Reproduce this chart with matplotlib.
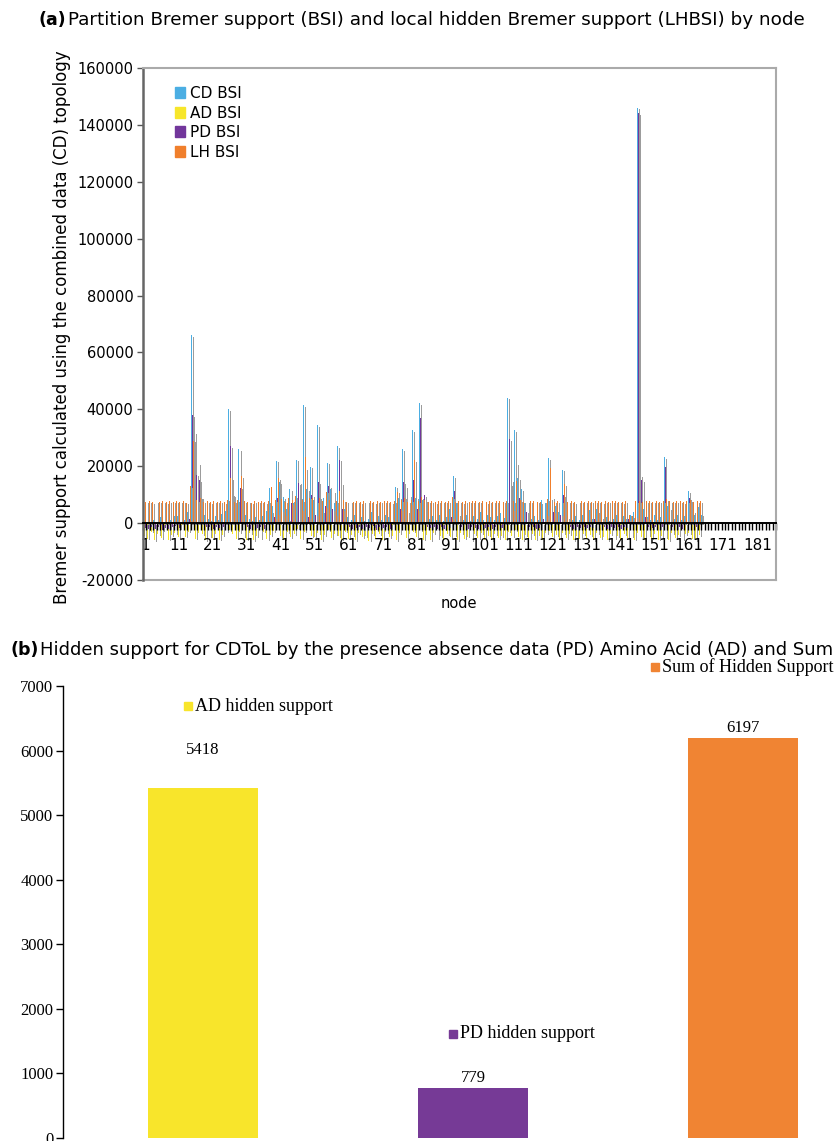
import matplotlib.pyplot as plt
import matplotlib.patheffects as pe
from matplotlib.patches import Patch
import numpy as np

# ---- panel (a): BSI per node, 4 partitions ----
cd_bsi = [
    1500, 600, 200, 1200, 500, 2200, 800, 300, 1000, 2600,
    2400, 3600, 1200, 3800, 66000, 32000, 21000, 9000, 3000, 1400,
    700, 2600, 1100, 3200, 4400, 40000, 10200, 8000, 26000, 6200,
    3000, 1500, 700, 2100, 1200, 2400, 4200, 12400, 6000, 22000,
    14500, 9200, 5000, 12000, 7200, 22300, 9000, 41400, 12000, 19800,
    8000, 34400, 6000, 9000, 21200, 12000, 7000, 27000, 14100, 5000,
    2200, 1200, 3000, 800, 2000, 600, 1500, 3800, 1000, 2400,
    1200, 3000, 2000, 4500, 12800, 9000, 26000, 13000, 9800, 32600,
    9000, 42100, 8000, 3000, 1500, 2500, 1000, 3000, 800, 2000,
    5000, 16500, 7000, 2000, 1200, 3000, 800, 2500, 1500, 4000,
    1200, 3000, 2000, 1000, 2400, 3500, 1800, 44100, 15000, 32600,
    15700, 12000, 7000, 3000, 1500, 2400, 1000, 8000, 7000, 22800,
    9000, 6000, 4000, 18800, 8000, 3000, 1200, 2500, 1000, 3000,
    2000, 4500, 1500, 5000, 3000, 1200, 2000, 800, 1500, 3000,
    1000, 2500, 1500, 3000, 4000, 146100, 16800, 5000, 2000, 1200,
    3000, 1000, 2000, 23300, 6000, 2500, 1500, 3000, 1000, 2500,
    11200, 8000, 3000, 5500, 3000,
]
ad_bsi = [
    -4500, -5500, -3000, -6000, -4000, -5200, -2800, -5800, -4200, -3500,
    -5000, -2500, -4800, -3000, -2000, -5500, -3500, -4000, -6000, -4500,
    -5200, -3800, -5800, -4200, -3000, -2500, -4000, -5500, -3200, -4800,
    -5800, -3500, -6000, -4500, -5200, -3000, -5600, -4200, -2800, 3500,
    -4500, -5800, -3200, -5000, -4000, -2000, -5500, -3000, 4000, -4500,
    -5000, -3500, -6000, -4200, -2500, -5200, -3800, -4600, -5800, -3000,
    -5500, -4200, -6000, -3500, -5000, -4500, -6200, -3800, -5500, -4000,
    -5800, -3200, -5000, -4500, -6000, -3500, -2000, -5200, -4000, -3000,
    -4800, -2500, -5800, -4200, -6000, -3500, -5200, -4500, -5800, -3800,
    -5000, -4200, -6000, -3500, -5500, -4800, -6200, -4000, -5200, -3600,
    -5800, -4400, -6000, -3800, -5200, -4600, -5800, -3000, -4500, -2500,
    -5000, -6000, -4200, -5500, -3800, -5800, -4500, -6000, -3500, -2800,
    -5000, -4200, -5800, -3500, -5200, -4000, -6000, -4500, -5500, -3800,
    -5600, -4200, -6000, -3500, -5200, -4800, -6000, -4000, -5500, -4500,
    -6000, -3800, -5200, -4500, -5800, -3500, -4800, -6000, -4200, -5500,
    -3800, -5800, -4500, -5000, -6000, -3500, -5200, -4200, -5800, -4000,
    -3500, -5500, -6000, -4200, 0,
]
pd_bsi = [
    -1800, -2200, -1500, -2000, -1200, -2400, -1600, -2000, -1300, -1000,
    -1800, 1000, 800, 1500, 38000, 17000, 15000, 4500, -1500, -1200,
    -2000, -1400, -1800, -1200, 2000, 27000, 9800, 5000, 12500, 3000,
    -1500, -2200, -1600, -1800, -1300, -2000, 1500, 4000, 2000, 8800,
    4500, 3000, 1500, 7000, 6000, 14100, 5000, 19400, 2000, 9800,
    3000, 14500, 4000, 6000, 13000, 5000, 3000, 22300, 5000, 1500,
    -1500, -2000, -1800, -1200, -2200, -1500, -1800, -1000, -2400, -1500,
    -1800, -1200, -2000, 1200, 3000, 5000, 14300, 4000, 7000, 15300,
    5000, 37000, 9800, -1500, -1800, -1200, -2000, -1500, -2200, -1300,
    2000, 11200, 3000, -1500, -1800, -2000, -1200, -1600, -2200, -1400,
    -1800, -1200, -2000, -1500, -1300, -1800, 1500, 29500, 5000, 20900,
    8800, 7000, 4000, -1500, -1200, -2000, -1800, 1500, 3000, 8800,
    4000, 2000, 3000, 9800, 2000, -1500, -2000, -1200, -1800, -1500,
    -1800, -1200, 1500, 4200, 2000, -1500, -2000, -1300, -1800, -1500,
    -2000, -1200, 1500, 2000, 2500, 144100, 15100, 2000, -1500, -1800,
    -1200, -2000, -1500, 19800, 5300, -1500, -1800, -1200, -2000, 1500,
    8800, 4000, -1500, 4000, 0,
]
lh_bsi = [
    7500, 7700, 7300, 7600, 7500, 7800, 7400, 7600, 7500, 7700,
    7500, 7800, 7200, 13000, 29000, 8000, 9000, 7500, 7700, 7400,
    7600, 7500, 7800, 7300, 8200, 15800, 7500, 8000, 16500, 7600,
    7500, 7200, 7600, 7500, 7800, 7400, 7700, 12700, 8000, 15900,
    8500, 7500, 9000, 8000, 9500, 14500, 8000, 23300, 9000, 8800,
    7500, 9000, 7800, 11000, 8000, 11000, 7600, 11200, 8000, 7500,
    7700, 7500, 7800, 7400, 7600, 7500, 7800, 7300, 7700, 7500,
    7600, 7800, 7400, 7700, 11000, 8000, 9000, 7500, 8000, 22100,
    7600, 9200, 8000, 7500, 7700, 7400, 7600, 7800, 7500, 7700,
    9200, 7500, 7800, 7400, 7600, 7500, 7700, 7800, 7500, 7600,
    7400, 7800, 7500, 7700, 7600, 7500, 7800, 13700, 7600, 14900,
    8000, 7500, 7700, 7600, 7800, 7500, 7400, 7700, 8500, 19400,
    7500, 7800, 7600, 13700, 7500, 7700, 7400, 7600, 7800, 7500,
    7700, 7500, 7600, 7800, 7400, 7700, 7500, 7600, 7800, 7500,
    7400, 7700, 3000, 2500, 7600, 7800, 7500, 7700, 7600, 7500,
    7800, 7500, 7600, 8400, 7700, 7500, 7800, 7600, 7400, 7700,
    8000, 7500, 7700, 7600, 0,
]
series_labels = ['CD BSI', 'AD BSI', 'PD BSI', 'LH BSI']
series_colors = ['#4BAEE3', '#F7E62A', '#72369B', '#F07F2C']
n_categories = 186

# ---- panel (b): hidden support totals ----
hidden_labels = ['AD hidden support', 'PD hidden support', 'Sum of Hidden Support']
hidden_values = [5418, 779, 6197]
hidden_colors = ['#F8E52B', '#763A96', '#F08433']

plt.rcParams['font.family'] = 'DejaVu Sans'
plt.rcParams['axes.unicode_minus'] = False

fig = plt.figure(figsize=(8.34, 11.41), dpi=100)
W, H = 834, 1141

# ===== (a) =====
ax = fig.add_axes([143 / W, 1 - 580 / H, (776 - 143) / W, (580 - 68) / H])
nodes = np.arange(1, len(cd_bsi) + 1)
shadow = [pe.SimplePatchShadow(offset=(1.6, -1.2), shadow_rgbFace='#9c9c9c', alpha=1.0),
          pe.Normal()]
offsets = [-0.33, -0.11, 0.11, 0.33]
for vals, off, col in zip([cd_bsi, ad_bsi, pd_bsi, lh_bsi], offsets, series_colors):
    ax.bar(nodes + off, vals, width=0.27, color=col, linewidth=0,
           antialiased=False, path_effects=shadow)

ax.set_xlim(0.5, n_categories + 0.5)
ax.set_ylim(-20000, 160000)
ax.set_yticks(np.arange(-20000, 160001, 20000))
ax.set_xticks(np.arange(1, n_categories + 1, 10))
ax.set_xticks(np.arange(0.5, n_categories + 1, 1), minor=True)
ax.tick_params(axis='x', which='major', length=0, pad=11, labelsize=11)
ax.tick_params(axis='x', which='minor', length=5, width=1, color='black')
ax.tick_params(axis='y', length=4, width=1, labelsize=10.5, pad=3, color='#555555')

ax.spines['bottom'].set_position(('data', 0))
ax.spines['bottom'].set_color('black')
ax.spines['bottom'].set_linewidth(1.4)
ax.spines['left'].set_color('#666666')
ax.spines['left'].set_linewidth(1.8)
for s in ['top', 'right']:
    ax.spines[s].set_color('#aaaaaa')
    ax.spines[s].set_linewidth(1.5)
ax.axhline(-20000, color='#aaaaaa', lw=1.5, clip_on=False)

handles = [Patch(color=c, label=l) for c, l in zip(series_colors, series_labels)]
ax.legend(handles=handles, loc='upper left', bbox_to_anchor=(0.05, 0.965), frameon=False,
          handlelength=0.7, handleheight=0.7, handletextpad=0.3, labelspacing=0.3,
          borderaxespad=0, borderpad=0, fontsize=11)

fig.text(62 / W, 1 - 327 / H,
         'Bremer support calculated using the combined data (CD) topology',
         rotation=90, ha='center', va='center', fontsize=12)
fig.text(459 / W, 1 - 604 / H, 'node', ha='center', va='center', fontsize=10.5)
fig.text(38 / W, 1 - 20 / H, '(a)', weight='bold', ha='left', va='center', fontsize=12.5)
fig.text(68 / W, 1 - 20 / H,
         'Partition Bremer support (BSI) and local hidden Bremer support (LHBSI) by node',
         ha='left', va='center', fontsize=13.2)

# ===== (b) =====
serif = 'Liberation Serif'
axb = fig.add_axes([63 / W, 3 / H, (W - 63) / W, (1138 - 686) / H])
xb = np.arange(len(hidden_values))
axb.bar(xb, hidden_values, width=0.407, color=hidden_colors)
axb.set_xlim(-0.519, 2.337)
axb.set_ylim(0, 7000)
axb.set_yticks(np.arange(0, 7001, 1000))
axb.set_xticks([])
for s in ['top', 'right', 'bottom']:
    axb.spines[s].set_visible(False)
axb.spines['left'].set_linewidth(1.0)
axb.tick_params(axis='y', length=5, width=1, pad=2, labelsize=12)
for t in axb.get_yticklabels():
    t.set_family(serif)

value_pad = [22, 1, 1]
for i, v in enumerate(hidden_values):
    axb.annotate(str(v), (xb[i], v), xytext=(0, value_pad[i]), textcoords='offset points',
                 ha='center', va='bottom', family=serif, fontsize=12)

# label with colour key placed above each bar: (dx from bar centre, height)
key_pos = [(-0.056, 6690), (-0.074, 1611), (-0.326, 7294)]
for i, (lab, col) in enumerate(zip(hidden_labels, hidden_colors)):
    dx, y = key_pos[i]
    axb.plot(xb[i] + dx, y, marker='s', ms=6, color=col, clip_on=False)
    axb.text(xb[i] + dx + 0.025, y, lab, ha='left', va='center', family=serif,
             fontsize=13, clip_on=False)

fig.text(10 / W, 1 - 650 / H, '(b)', weight='bold', ha='left', va='center', fontsize=12.5)
fig.text(40 / W, 1 - 650 / H,
         'Hidden support for CDToL by the presence absence data (PD) Amino Acid (AD) and Sum',
         ha='left', va='center', fontsize=13.0)

fig.savefig('out.png', dpi=100)
